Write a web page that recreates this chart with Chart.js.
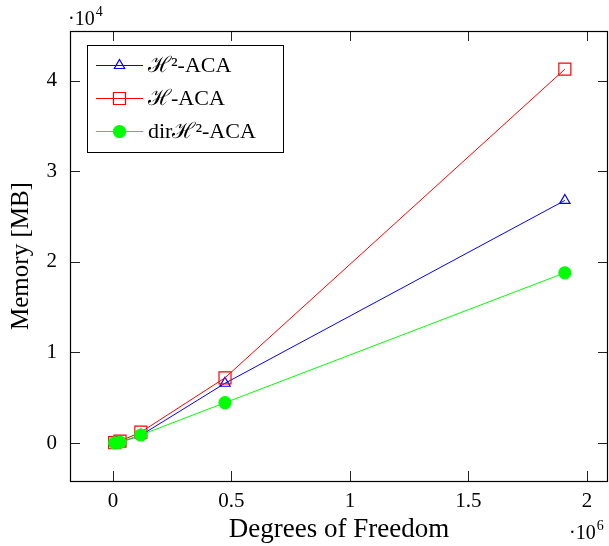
<!DOCTYPE html>
<html>
<head>
<meta charset="utf-8">
<script src="https://cdn.jsdelivr.net/npm/chart.js@4/dist/chart.umd.min.js"></script>
<style>
  html, body { margin: 0; background: #fff; }
  #wrap { width: 609px; height: 546px; }
</style>
</head>
<body>
<div id="wrap"><canvas id="memChart"></canvas></div>
<script>
// degrees of freedom per refinement level
const dofs = [7500, 30000, 118000, 473000, 1907000]
// memory in MB
const memH2 = [20, 90, 850, 6600, 26800]
const memH = [30, 200, 1200, 7200, 41300]
const memDirH2 = [15, 80, 880, 4450, 18800]

const xTicks = [0, 500000, 1000000, 1500000, 2000000]
const yTicks = [0, 10000, 20000, 30000, 40000]

const serif = "'Liberation Serif', 'DejaVu Serif', serif"

const series = [
    { label: 'ℋ²-ACA', data: memH2, color: '#0000ff', style: 'triangle', radius: 6, fill: 'rgba(0,0,0,0)', order: 3 },
    { label: 'ℋ-ACA', data: memH, color: '#ff0000', style: 'rect', radius: 8.5, fill: 'rgba(0,0,0,0)', order: 2 },
    { label: 'dirℋ²-ACA', data: memDirH2, color: '#00ff00', style: 'circle', radius: 6, fill: '#00ff00', order: 1 },
]

const datasets = series.map(s => ({
    label: s.label,
    data: dofs.map((x, i) => ({ x: x, y: s.data[i] })),
    showLine: true,
    borderColor: s.color,
    borderWidth: 1,
    pointStyle: s.style,
    pointRadius: s.radius,
    pointBorderColor: s.color,
    pointBackgroundColor: s.fill,
    pointBorderWidth: 1.2,
    order: s.order,
}))

// frame, inward ticks, exponent labels and the legend box
const framePlugin = {
    id: 'frame',
    afterDraw(chart) {
        const ctx = chart.ctx
        const a = chart.chartArea
        const xs = chart.scales.x
        const ys = chart.scales.y
        const tl = 10
        ctx.save()
        ctx.strokeStyle = '#222'
        ctx.lineWidth = 1
        ctx.beginPath()
        xTicks.forEach(v => {
            const px = Math.round(xs.getPixelForValue(v)) + 0.5
            ctx.moveTo(px, a.bottom); ctx.lineTo(px, a.bottom - tl)
            ctx.moveTo(px, a.top); ctx.lineTo(px, a.top + tl)
        })
        yTicks.forEach(v => {
            const py = Math.round(ys.getPixelForValue(v)) + 0.5
            ctx.moveTo(a.left, py); ctx.lineTo(a.left + tl, py)
            ctx.moveTo(a.right, py); ctx.lineTo(a.right - tl, py)
        })
        ctx.stroke()
        ctx.strokeStyle = '#000'
        ctx.lineWidth = 1.2
        ctx.strokeRect(Math.round(a.left) + 0.5, Math.round(a.top) + 0.5,
            Math.round(a.right - a.left) - 1, Math.round(a.bottom - a.top))

        // exponent labels
        ctx.fillStyle = '#000'
        ctx.textBaseline = 'alphabetic'
        ctx.textAlign = 'left'
        ctx.font = '20px ' + serif
        ctx.fillText('·10', 68, 25)
        let w = ctx.measureText('·10').width
        ctx.font = '14px ' + serif
        ctx.fillText('4', 68 + w + 1, 16)
        ctx.font = '20px ' + serif
        ctx.fillText('·10', 569, 539)
        w = ctx.measureText('·10').width
        ctx.font = '14px ' + serif
        ctx.fillText('6', 569 + w + 1, 530)

        // legend
        const box = { x: 87, y: 45, w: 196, h: 107 }
        ctx.fillStyle = '#fff'
        ctx.fillRect(box.x, box.y, box.w, box.h)
        ctx.strokeStyle = '#000'
        ctx.lineWidth = 1
        ctx.strokeRect(box.x + 0.5, box.y + 0.5, box.w, box.h)
        const rows = [65, 98, 131]
        series.forEach((s, i) => {
            const y = rows[i]
            ctx.strokeStyle = s.color
            ctx.lineWidth = 1
            ctx.beginPath()
            ctx.moveTo(96, y + 0.5); ctx.lineTo(143, y + 0.5)
            ctx.stroke()
            ctx.fillStyle = s.fill
            ctx.lineWidth = 1.2
            Chart.helpers.drawPoint(ctx, { pointStyle: s.style, radius: s.radius, rotation: 0, borderWidth: 1.2 }, 119.5, y + 0.5)
            ctx.fillStyle = '#000'
            ctx.font = '22px ' + serif
            ctx.textBaseline = 'middle'
            ctx.fillText(s.label, 148, y + 1)
        })
        ctx.restore()
    }
}

const memChart = new Chart(document.getElementById('memChart'), {
    type: 'scatter',
    data: { datasets: datasets },
    options: {
        responsive: true,
        maintainAspectRatio: false,
        animation: false,
        layout: { autoPadding: false, padding: { top: 31, right: 1, left: 0, bottom: 0 } },
        plugins: {
            legend: { display: false },
            tooltip: { enabled: false },
        },
        scales: {
            x: {
                type: 'linear',
                min: -181000,
                max: 2089000,
                afterBuildTicks: s => { s.ticks = xTicks.map(v => ({ value: v })) },
                afterFit: s => { s.height = 65; s.paddingLeft = 0; s.paddingRight = 0 },
                grid: { display: false, drawTicks: false },
                border: { display: false },
                ticks: {
                    callback: v => String(v / 1e6),
                    font: { family: serif, size: 21 },
                    color: '#000',
                    padding: 8,
                },
                title: {
                    display: true,
                    text: 'Degrees of Freedom',
                    font: { family: serif, size: 27 },
                    color: '#000',
                    padding: { top: 0, bottom: 0 },
                },
            },
            y: {
                type: 'linear',
                min: -4200,
                max: 45520,
                afterBuildTicks: s => { s.ticks = yTicks.map(v => ({ value: v })) },
                afterFit: s => { s.width = 70; s.paddingTop = 0; s.paddingBottom = 0 },
                grid: { display: false, drawTicks: false },
                border: { display: false },
                ticks: {
                    callback: v => String(v / 1e4),
                    font: { family: serif, size: 21 },
                    color: '#000',
                    padding: 13,
                },
                title: {
                    display: true,
                    text: 'Memory [MB]',
                    font: { family: serif, size: 25 },
                    color: '#000',
                    padding: { top: 6, bottom: 0 },
                },
            },
        },
    },
    plugins: [framePlugin],
})
</script>
</body>
</html>
